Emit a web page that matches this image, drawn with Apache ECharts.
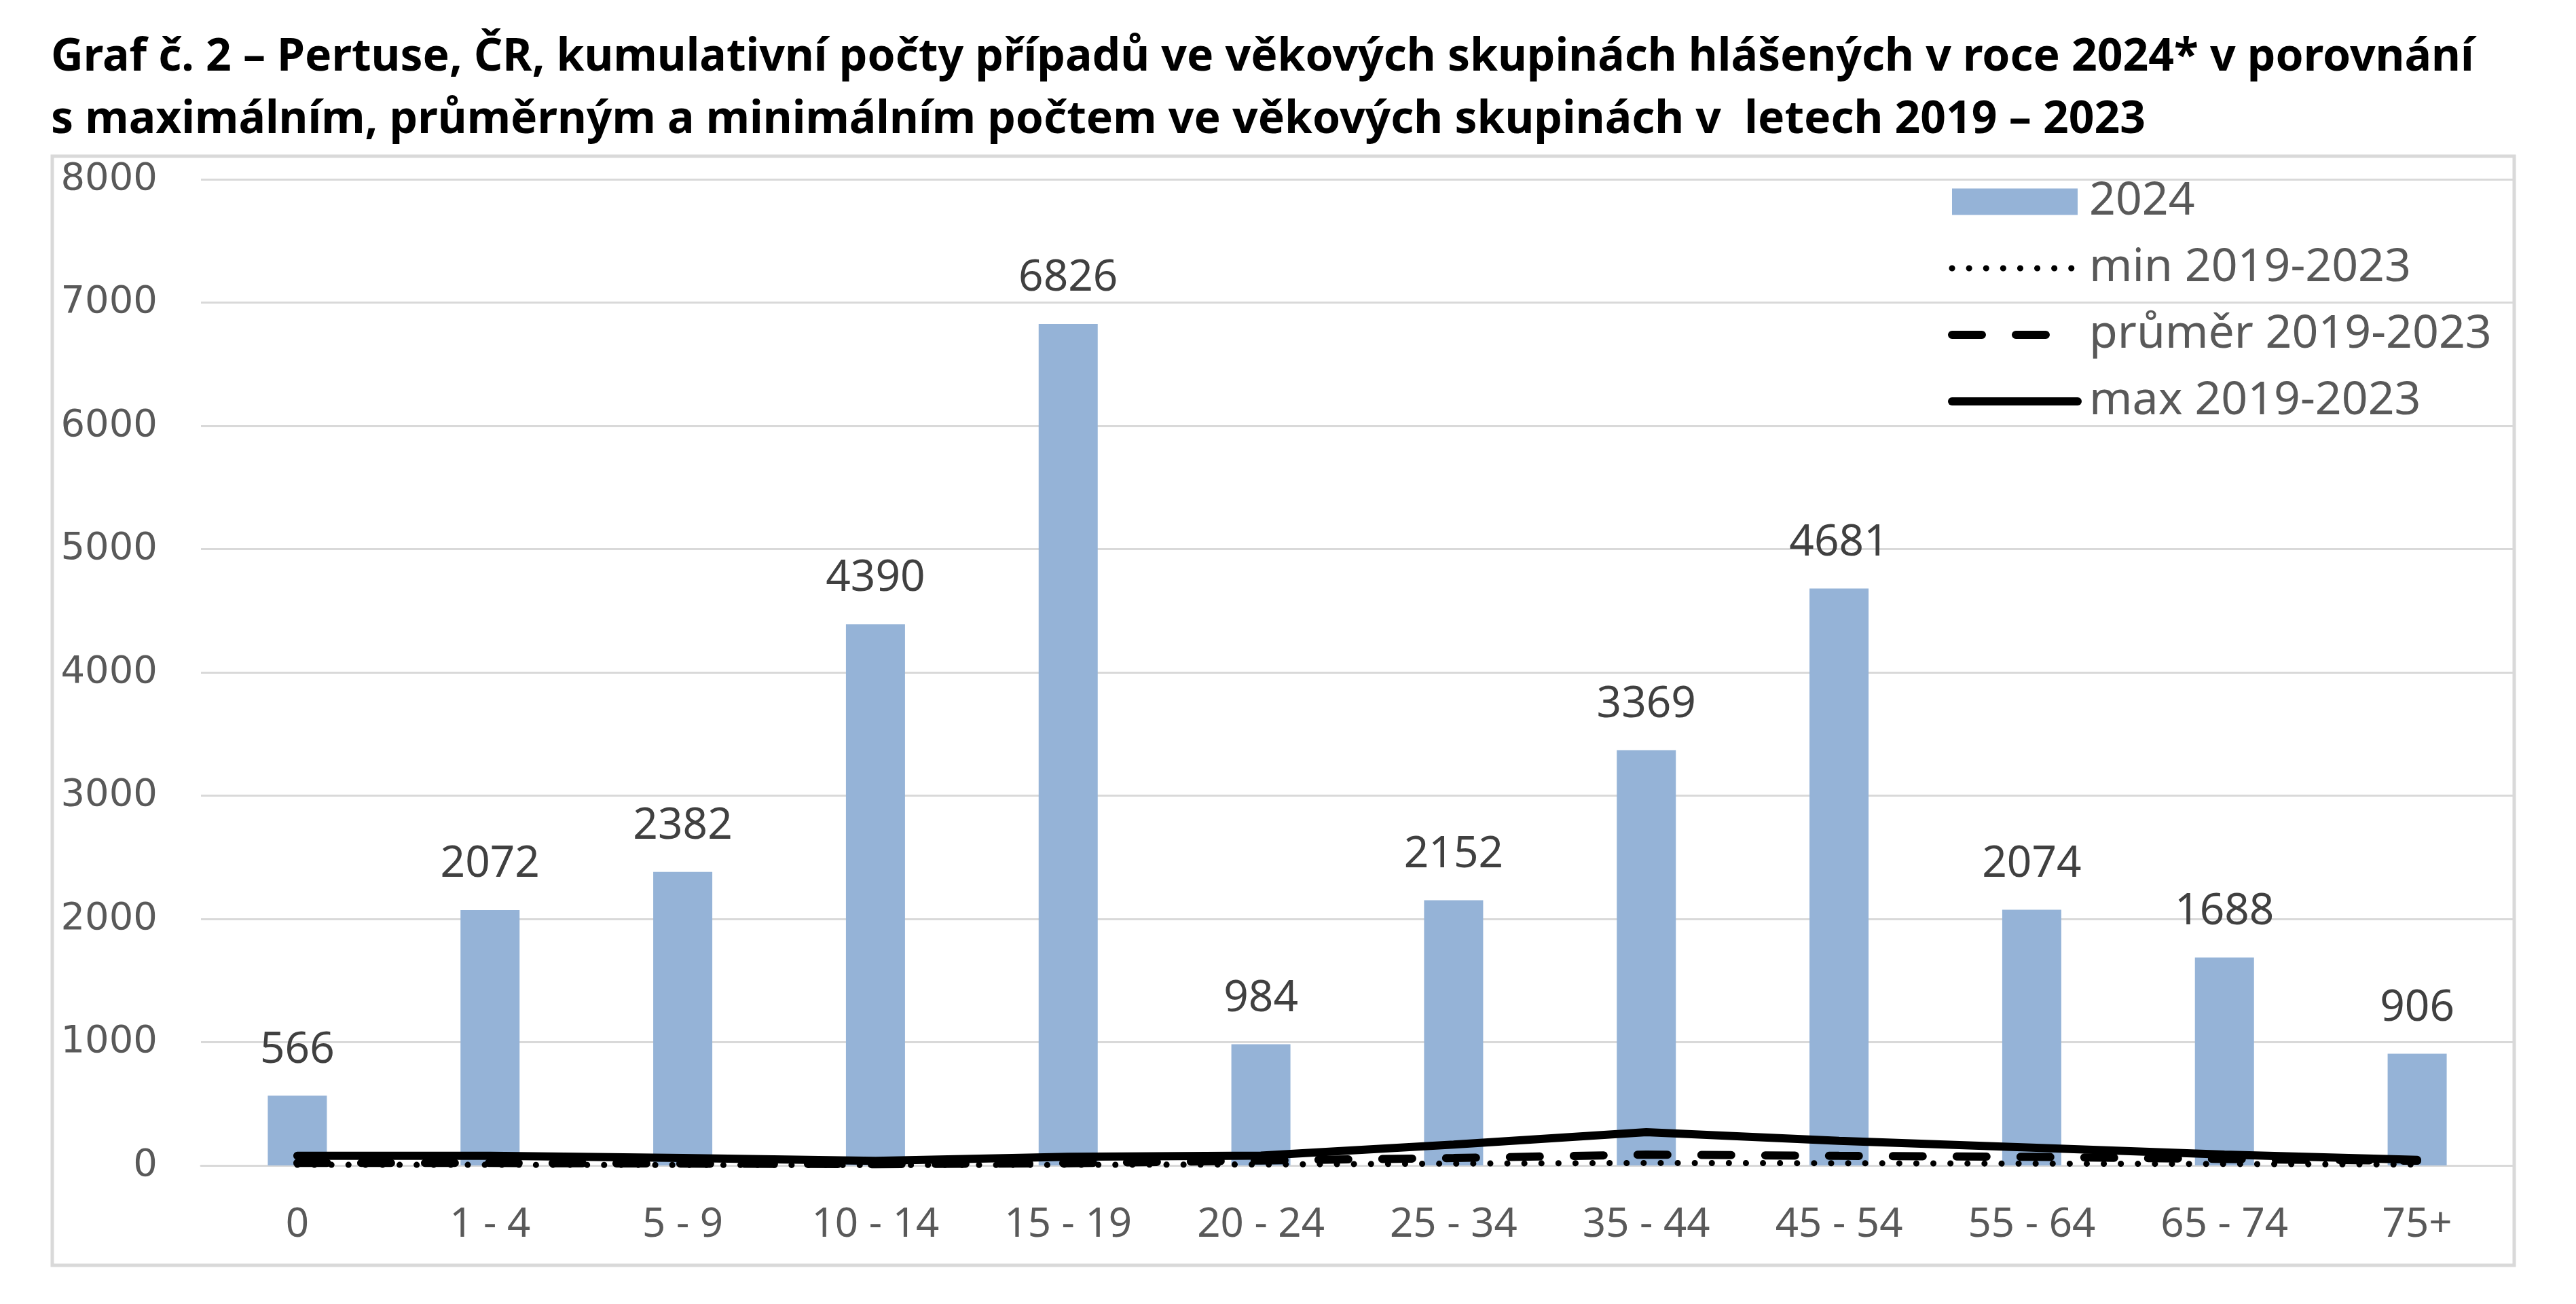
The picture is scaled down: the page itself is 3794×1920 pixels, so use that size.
<!DOCTYPE html>
<html>
<head>
<meta charset="utf-8">
<script src="https://cdn.jsdelivr.net/npm/echarts@6/dist/echarts.min.js"></script>
<style>
  html, body { margin: 0; padding: 0; background: #fff; }
  #chart { width: 3794px; height: 1920px; }
</style>
</head>
<body>
<div id="chart"></div>
<script>
// věkové skupiny
const categories = ['0', '1 - 4', '5 - 9', '10 - 14', '15 - 19', '20 - 24', '25 - 34', '35 - 44', '45 - 54', '55 - 64', '65 - 74', '75+']
// 2024 - kumulativní počty
const cases2024 = [566, 2072, 2382, 4390, 6826, 984, 2152, 3369, 4681, 2074, 1688, 906]
// 2019-2023 (odhad z grafu)
const min1923 = [5, 5, 4, 3, 5, 8, 15, 20, 18, 15, 12, 8]
const mean1923 = [20, 20, 15, 10, 18, 40, 60, 88, 78, 70, 52, 38]
const max1923 = [78, 78, 60, 37, 70, 80, 170, 270, 200, 145, 88, 45]
const yTicks = { min: 0, max: 8000, interval: 1000 }

const titleText = 'Graf č. 2 – Pertuse, ČR, kumulativní počty případů ve věkových skupinách hlášených v roce 2024* v porovnání\n' +
  's maximálním, průměrným a minimálním počtem ve věkových skupinách v  letech 2019 – 2023'

const hideSymbol = { opacity: 0 }

const chart = echarts.init(document.getElementById('chart'))
const option = {
  backgroundColor: '#fff',
  animation: false,
  title: {
    text: titleText,
    left: 70,
    top: 34,
    textStyle: {
      fontFamily: 'Noto Sans',
      fontWeight: 'bold',
      fontSize: 66,
      lineHeight: 92,
      color: '#000'
    }
  },
  graphic: [{
    type: 'rect',
    shape: { x: 77, y: 230, width: 3626, height: 1633 },
    style: { fill: 'none', stroke: '#d9d9d9', lineWidth: 5 },
    z: -10
  }],
  legend: {
    orient: 'vertical',
    left: 2864,
    top: 258,
    itemWidth: 185,
    itemHeight: 39,
    itemGap: 30,
    lineStyle: { width: 'inherit' },
    textStyle: {
      fontFamily: 'Noto Sans',
      fontSize: 68,
      lineHeight: 60,
      color: '#595959',
      padding: [0, 0, 0, 12]
    },
    data: [
      { name: '2024', icon: 'rect' },
      { name: 'min 2019-2023', itemStyle: hideSymbol },
      { name: 'průměr 2019-2023', itemStyle: hideSymbol },
      { name: 'max 2019-2023', itemStyle: hideSymbol }
    ]
  },
  grid: {
    left: 296,
    right: 92,
    top: 264,
    bottom: 204,
    containLabel: false
  },
  xAxis: {
    type: 'category',
    data: categories,
    axisLine: { lineStyle: { color: '#d9d9d9', width: 3 } },
    axisTick: { show: false },
    axisLabel: {
      fontFamily: 'Noto Sans',
      fontSize: 60,
      color: '#595959',
      margin: 58,
      interval: 0
    }
  },
  yAxis: {
    type: 'value',
    min: yTicks.min,
    max: yTicks.max,
    interval: yTicks.interval,
    axisLine: { show: false },
    axisTick: { show: false },
    splitLine: { lineStyle: { color: '#d9d9d9', width: 3 } },
    axisLabel: {
      fontFamily: 'DejaVu Sans',
      fontSize: 56,
      color: '#595959',
      margin: 64,
      formatter: (v) => String(v)
    }
  },
  series: [{
    name: '2024',
    type: 'bar',
    data: cases2024,
    barWidth: 87,
    itemStyle: { color: '#95b3d7' },
    label: {
      show: true,
      position: 'top',
      distance: 35,
      fontFamily: 'Noto Sans',
      fontSize: 64,
      color: '#404040'
    },
    z: 2
  },
  {
    name: 'min 2019-2023',
    type: 'line',
    data: min1923,
    symbol: 'none',
    itemStyle: { color: '#000' },
    lineStyle: { color: '#000', width: 9, type: [0.1, 25], cap: 'round' },
    z: 5
  },
  {
    name: 'průměr 2019-2023',
    type: 'line',
    data: mean1923,
    symbol: 'none',
    itemStyle: { color: '#000' },
    lineStyle: { color: '#000', width: 12, type: [44, 50], cap: 'round' },
    z: 4
  },
  {
    name: 'max 2019-2023',
    type: 'line',
    data: max1923,
    symbol: 'none',
    itemStyle: { color: '#000' },
    lineStyle: { color: '#000', width: 12, cap: 'round' },
    z: 3
  }
  ]
}
chart.setOption(option)
</script>
</body>
</html>
